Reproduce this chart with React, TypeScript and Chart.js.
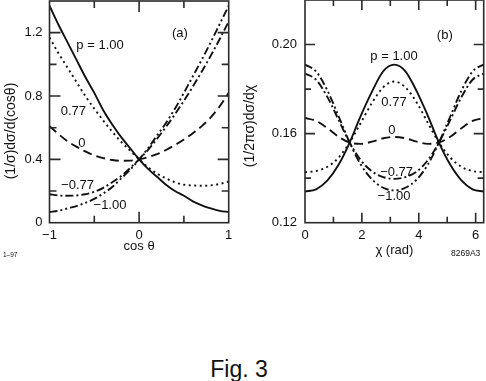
import React, { useEffect, useRef } from 'react';
import { Chart, registerables } from 'chart.js';

Chart.register(...registerables);

const FONT = '"Liberation Sans", Arial, Helvetica, sans-serif';
const INK = '#111111';
const FRAME = '#2a2a2a';

// ---------- Panel (a): (1/σ)dσ/d(cosθ) vs cosθ ----------
const cosTheta = [-1, -0.9, -0.8, -0.7, -0.6, -0.5, -0.4, -0.3, -0.2, -0.1, 0, 0.1, 0.2, 0.3, 0.4, 0.5, 0.6, 0.7, 0.8, 0.9, 1];
const aP100 = [1.37, 1.25, 1.14, 1.03, 0.92, 0.82, 0.71, 0.62, 0.54, 0.47, 0.40, 0.34, 0.29, 0.24, 0.20, 0.17, 0.135, 0.11, 0.09, 0.075, 0.068];
const aP077 = [1.17, 1.07, 0.98, 0.89, 0.80, 0.72, 0.645, 0.575, 0.51, 0.455, 0.40, 0.35, 0.31, 0.28, 0.255, 0.24, 0.235, 0.233, 0.236, 0.245, 0.26];
const aP0 = [0.61, 0.56, 0.515, 0.48, 0.45, 0.425, 0.408, 0.396, 0.391, 0.392, 0.40, 0.414, 0.433, 0.459, 0.49, 0.525, 0.565, 0.61, 0.665, 0.735, 0.82];
const aPm077 = [0.18, 0.172, 0.17, 0.172, 0.18, 0.195, 0.22, 0.255, 0.295, 0.345, 0.40, 0.46, 0.53, 0.605, 0.685, 0.77, 0.86, 0.955, 1.055, 1.16, 1.27];
const aPm100 = [0.068, 0.075, 0.09, 0.105, 0.125, 0.15, 0.185, 0.225, 0.28, 0.335, 0.40, 0.47, 0.55, 0.63, 0.72, 0.82, 0.925, 1.03, 1.14, 1.255, 1.37];
const aXMajor = [-1, 0, 1];
const aXLabels = ['−1', '0', '1'];
const aYMajor = [0, 0.4, 0.8, 1.2];
const aYLabels = ['0', '0.4', '0.8', '1.2'];

// ---------- Panel (b): (1/2πσ)dσ/dχ vs χ ----------
const chi = [0, 0.39, 0.79, 1.18, 1.57, 1.96, 2.36, 2.75, 3.14, 3.53, 3.93, 4.32, 4.71, 5.11, 5.50, 5.89, 6.28];
const bP100 = [0.134, 0.135, 0.139, 0.146, 0.156, 0.168, 0.179, 0.188, 0.191, 0.188, 0.179, 0.168, 0.156, 0.146, 0.139, 0.135, 0.134];
const bP077 = [0.1427, 0.1432, 0.1451, 0.1492, 0.156, 0.1648, 0.1739, 0.1808, 0.1834, 0.1808, 0.1739, 0.1648, 0.156, 0.1492, 0.1451, 0.1432, 0.1427];
const bP0 = [0.167, 0.1657, 0.1624, 0.1586, 0.156, 0.1554, 0.1564, 0.1579, 0.1585, 0.1579, 0.1564, 0.1554, 0.156, 0.1586, 0.1624, 0.1657, 0.167];
const bPm077 = [0.187, 0.1842, 0.1764, 0.1662, 0.156, 0.1481, 0.143, 0.1405, 0.1397, 0.1405, 0.143, 0.1481, 0.156, 0.1662, 0.1764, 0.1842, 0.187];
const bPm100 = [0.191, 0.1879, 0.1793, 0.1678, 0.156, 0.1461, 0.1394, 0.1357, 0.1345, 0.1357, 0.1394, 0.1461, 0.156, 0.1678, 0.1793, 0.1879, 0.191];
const bXMajor = [0, 2, 4, 6];
const bXLabels = ['0', '2', '4', '6'];
const bYMajor = [0.12, 0.16, 0.2];
const bYLabels = ['0.12', '0.16', '0.20'];

const seriesNames = ['p = 1.00', '0.77', '0', '−0.77', '−1.00'];
const DASHES: number[][] = [[], [2, 3.5], [9, 5], [8, 3, 2, 3], [8, 3, 2, 3, 2, 3]];

const pick = (majors: number[], labels: string[]) => (v: number | string) => {
  const n = Number(v);
  const i = majors.findIndex((m) => Math.abs(m - n) < 1e-6);
  return i >= 0 ? labels[i] : '';
};

const buildDatasets = (xv: number[], series: number[][]) =>
  series.map((ys, i) => ({
    label: seriesNames[i],
    data: xv.map((x, j) => ({ x, y: ys[j] })),
    borderColor: INK,
    borderWidth: 1.9,
    borderDash: DASHES[i],
    borderCapStyle: 'butt' as const,
    pointRadius: 0,
    fill: false,
    cubicInterpolationMode: 'monotone' as const,
  }));

const decorPlugin = {
  id: 'panelDecor',
  afterDraw(chart: any, _args: any, opts: any) {
    const { ctx, chartArea: ca, scales } = chart;
    const xs = scales.x;
    const ys = scales.y;
    const isMajor = (v: number, list: number[]) => list.some((m) => Math.abs(m - v) < 1e-6);
    ctx.save();
    ctx.strokeStyle = FRAME;
    ctx.lineWidth = 1.6;
    ctx.setLineDash([]);
    ctx.strokeRect(ca.left, ca.top, ca.right - ca.left, ca.bottom - ca.top);
    ctx.beginPath();
    xs.ticks.forEach((t: any) => {
      const px = xs.getPixelForValue(t.value);
      if (px < ca.left + 1 || px > ca.right - 1) return;
      const len = isMajor(t.value, opts.xMajor) ? opts.majorLen : opts.minorLen;
      ctx.moveTo(px, ca.bottom);
      ctx.lineTo(px, ca.bottom - len);
      ctx.moveTo(px, ca.top);
      ctx.lineTo(px, ca.top + len);
    });
    ys.ticks.forEach((t: any) => {
      const py = ys.getPixelForValue(t.value);
      if (py < ca.top + 1 || py > ca.bottom - 1) return;
      const len = isMajor(t.value, opts.yMajor) ? opts.majorLen : opts.minorLen;
      ctx.moveTo(ca.left, py);
      ctx.lineTo(ca.left + len, py);
      ctx.moveTo(ca.right, py);
      ctx.lineTo(ca.right - len, py);
    });
    ctx.stroke();

    ctx.fillStyle = INK;
    ctx.font = `13px ${FONT}`;
    ctx.textAlign = 'center';
    ctx.textBaseline = 'middle';
    opts.notes.forEach((n: any) => {
      ctx.fillText(n.text, xs.getPixelForValue(n.x), ys.getPixelForValue(n.y));
    });

    const t = opts.yTitle;
    ctx.translate(t.x, t.y);
    ctx.rotate(-Math.PI / 2);
    ctx.font = `${t.size}px ${FONT}`;
    ctx.fillText(t.text, 0, 0);
    ctx.restore();
  },
};

const tickFont = { family: FONT, size: 13 };

function makeConfig(p: any): any {
  return {
    type: 'line',
    data: { datasets: buildDatasets(p.xv, p.series) },
    options: {
      responsive: false,
      animation: false,
      devicePixelRatio: 1,
      layout: { padding: p.padding },
      plugins: {
        legend: { display: false },
        tooltip: { enabled: false },
        panelDecor: {
          xMajor: p.xMajor,
          yMajor: p.yMajor,
          majorLen: p.majorLen,
          minorLen: p.minorLen,
          notes: p.notes,
          yTitle: p.yTitle,
        },
      },
      scales: {
        x: {
          type: 'linear',
          min: p.xMin,
          max: p.xMax,
          afterFit: (s: any) => {
            s.height = p.xHeight;
            s.paddingLeft = 0;
            s.paddingRight = 0;
          },
          grid: { display: false, drawTicks: false },
          border: { display: false },
          ticks: {
            stepSize: p.xStep,
            includeBounds: false,
            autoSkip: false,
            maxRotation: 0,
            padding: p.xTickPad,
            color: INK,
            font: tickFont,
            callback: pick(p.xMajor, p.xLabels),
          },
          title: {
            display: true,
            text: p.xTitle,
            color: INK,
            font: tickFont,
            padding: { top: 0, bottom: p.xTitlePad },
          },
        },
        y: {
          type: 'linear',
          min: p.yMin,
          max: p.yMax,
          afterFit: (s: any) => {
            s.width = p.yWidth;
            s.paddingTop = 0;
            s.paddingBottom = 0;
          },
          grid: { display: false, drawTicks: false },
          border: { display: false },
          ticks: {
            stepSize: p.yStep,
            includeBounds: false,
            autoSkip: false,
            padding: p.yTickPad,
            color: INK,
            font: tickFont,
            callback: pick(p.yMajor, p.yLabels),
          },
        },
      },
    },
    plugins: [decorPlugin],
  };
}

const configA = () =>
  makeConfig({
    xv: cosTheta,
    series: [aP100, aP077, aP0, aPm077, aPm100],
    padding: { left: 0, top: 1, right: 14.3, bottom: 0 },
    xMin: -1,
    xMax: 1,
    xStep: 0.5,
    xMajor: aXMajor,
    xLabels: aXLabels,
    xHeight: 39.3,
    xTickPad: 5,
    xTitle: 'cos θ',
    xTitlePad: 8,
    yMin: 0,
    yMax: 1.4,
    yStep: 0.2,
    yMajor: aYMajor,
    yLabels: aYLabels,
    yWidth: 49.5,
    yTickPad: 7,
    majorLen: 11,
    minorLen: 7,
    notes: [
      { text: 'p = 1.00', x: -0.436, y: 1.12 },
      { text: '0.77', x: -0.734, y: 0.705 },
      { text: '0', x: -0.64, y: 0.5 },
      { text: '−0.77', x: -0.687, y: 0.238 },
      { text: '−1.00', x: -0.325, y: 0.112 },
      { text: '(a)', x: 0.456, y: 1.198 },
    ],
    yTitle: { text: '(1/σ)dσ/d(cosθ)', x: 11, y: 131, size: 14 },
  });

const configB = () =>
  makeConfig({
    xv: chi,
    series: [bP100, bP077, bP0, bPm077, bPm100],
    padding: { left: 0, top: 1, right: 2.3, bottom: 0 },
    xMin: 0,
    xMax: 2 * Math.PI,
    xStep: 1,
    xMajor: bXMajor,
    xLabels: bXLabels,
    xHeight: 39.3,
    xTickPad: 5,
    xTitle: 'χ (rad)',
    xTitlePad: 4,
    yMin: 0.12,
    yMax: 0.22,
    yStep: 0.02,
    yMajor: bYMajor,
    yLabels: bYLabels,
    yWidth: 62,
    yTickPad: 8,
    majorLen: 10,
    minorLen: 6,
    notes: [
      { text: 'p = 1.00', x: 3.13, y: 0.1945 },
      { text: '0.77', x: 3.13, y: 0.1738 },
      { text: '0', x: 3.055, y: 0.1616 },
      { text: '−0.77', x: 3.22, y: 0.1427 },
      { text: '−1.00', x: 3.13, y: 0.1316 },
      { text: '(b)', x: 4.915, y: 0.2043 },
    ],
    yTitle: { text: '(1/2πσ)dσ/dχ', x: 7.5, y: 127, size: 14 },
  });

function Panel(props: { make: () => any; left: number; top: number; width: number; height: number }) {
  const ref = useRef<HTMLCanvasElement>(null);
  useEffect(() => {
    const chart = new Chart(ref.current as HTMLCanvasElement, props.make());
    return () => chart.destroy();
  }, []);
  return (
    <canvas
      ref={ref}
      width={props.width}
      height={props.height}
      style={{ position: 'absolute', left: props.left, top: props.top, width: props.width, height: props.height }}
    />
  );
}

const textStyle = (size: number, top: number): React.CSSProperties => ({
  position: 'absolute',
  top,
  fontFamily: FONT,
  fontSize: size,
  lineHeight: 1,
  color: INK,
  whiteSpace: 'nowrap',
});

export default function App() {
  return (
    <div style={{ position: 'fixed', left: 0, top: 0, width: 486, height: 381, background: '#fff', overflow: 'hidden' }}>
      <Panel make={configA} left={0} top={0} width={243} height={262} />
      <Panel make={configB} left={243} top={-1} width={243} height={263} />
      <div style={{ ...textStyle(6.5, 252.3), left: 3 }}>1–97</div>
      <div style={{ ...textStyle(8.5, 248.8), left: 451 }}>8269A3</div>
      <div style={{ ...textStyle(23, 357.5), left: 239, transform: 'translateX(-50%)' }}>Fig. 3</div>
    </div>
  );
}
